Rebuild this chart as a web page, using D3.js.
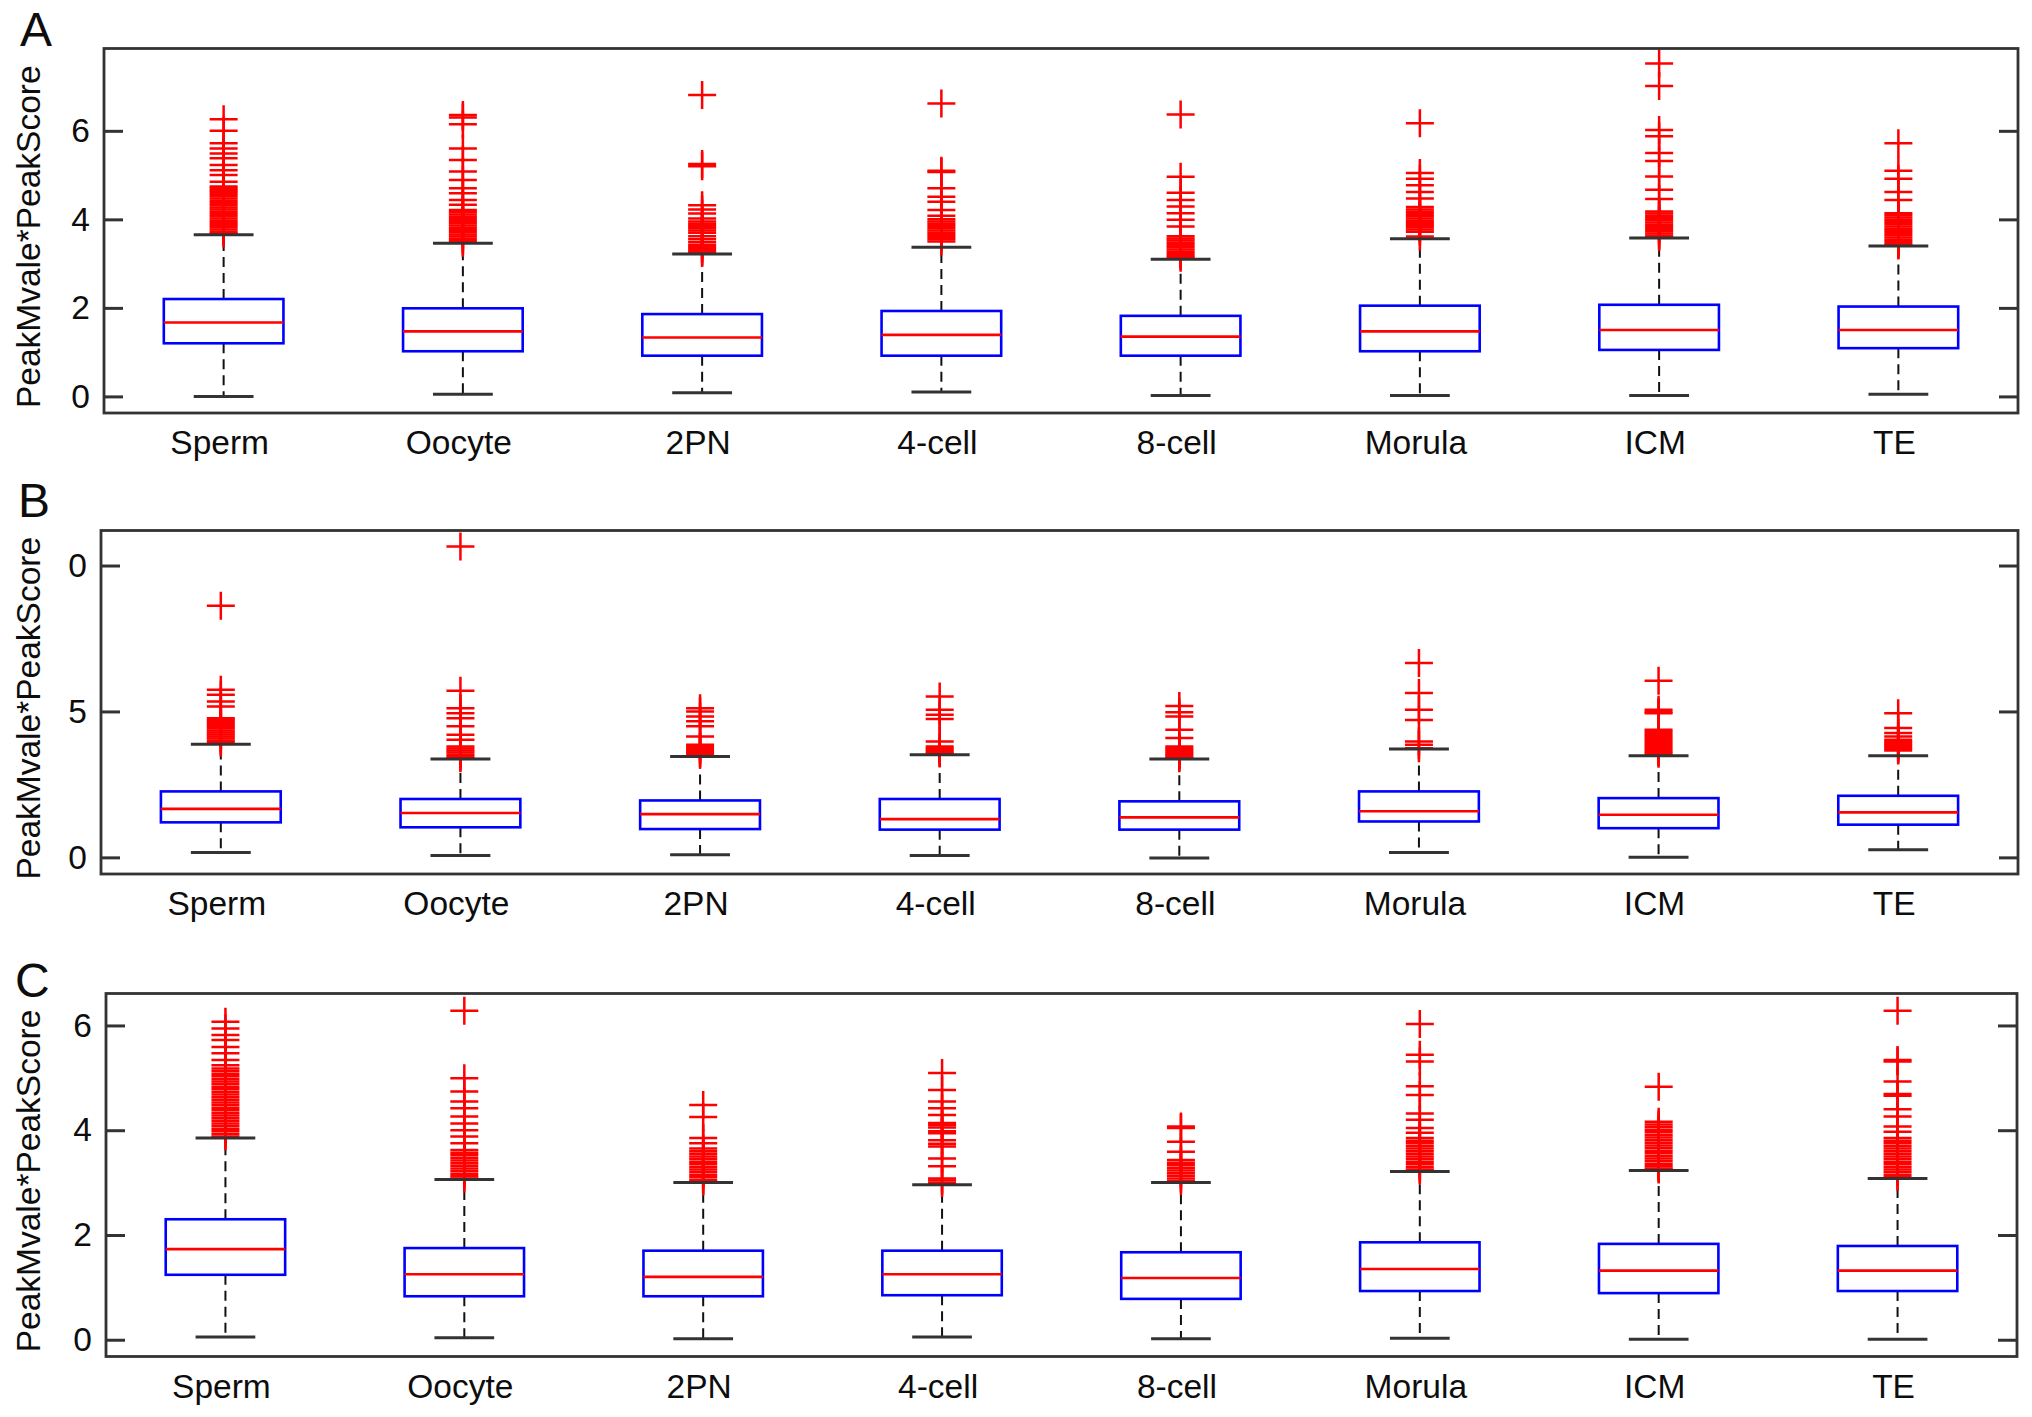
<!DOCTYPE html>
<html>
<head>
<meta charset="utf-8">
<script src="https://cdn.jsdelivr.net/npm/d3@7"></script>
<style>
  html, body { margin: 0; padding: 0; background: #fff; }
  svg { display: block; }
  text { font-family: "Liberation Sans", Arial, Helvetica, sans-serif; fill: #0d0d0d; }
</style>
</head>
<body>
<svg id="chart" width="2032" height="1417"></svg>
<script>
// ---------------- DATA ----------------
const categories = ["Sperm", "Oocyte", "2PN", "4-cell", "8-cell", "Morula", "ICM", "TE"];
const yAxisLabel = "PeakMvale*PeakScore";
const panelLetters = ["A", "B", "C"];

// Panel A
const aTicks = [0, 2, 4, 6];
const aTickLabels = ["0", "2", "4", "6"];
const aLow = [0.00, 0.05, 0.08, 0.10, 0.02, 0.02, 0.02, 0.05];
const aQ1 = [1.20, 1.02, 0.92, 0.92, 0.92, 1.02, 1.05, 1.09];
const aMedian = [1.67, 1.47, 1.33, 1.39, 1.35, 1.47, 1.50, 1.50];
const aQ3 = [2.20, 1.99, 1.86, 1.93, 1.82, 2.05, 2.07, 2.03];
const aHigh = [3.65, 3.46, 3.22, 3.37, 3.10, 3.56, 3.58, 3.40];
const aOutliers = [
  [6.26,6.0,5.72,5.6,5.49,5.38,5.23,5.11,5.0,4.85,4.74,4.7,4.66,4.62,4.57,4.52,4.47,4.42,4.37,4.32,4.27,4.22,4.17,4.12,4.07,4.02,3.97,3.92,3.87,3.82,3.77,3.72,3.68],
  [6.36,6.3,6.15,5.6,5.34,5.08,4.89,4.7,4.59,4.44,4.33,4.21,4.16,4.11,4.06,4.01,3.96,3.91,3.86,3.81,3.76,3.71,3.66,3.61,3.56,3.51,3.47],
  [6.81,5.25,5.2,4.32,4.22,4.13,4.02,3.95,3.9,3.85,3.8,3.75,3.7,3.62,3.55,3.48,3.42,3.37,3.33,3.28,3.24],
  [6.62,5.1,5.07,4.7,4.51,4.4,4.21,4.08,4.0,3.95,3.9,3.85,3.8,3.75,3.7,3.65,3.6,3.55,3.5],
  [6.37,4.96,4.6,4.44,4.29,4.14,3.99,3.84,3.62,3.57,3.52,3.47,3.42,3.37,3.32,3.27,3.22,3.17,3.13],
  [6.17,5.05,4.92,4.77,4.62,4.47,4.28,4.22,4.17,4.12,4.07,4.02,3.97,3.92,3.87,3.82,3.77,3.72,3.61],
  [7.52,7.01,6.02,5.88,5.5,5.32,4.97,4.67,4.46,4.18,4.13,4.08,4.03,3.98,3.93,3.88,3.83,3.78,3.73,3.68,3.63,3.6],
  [5.72,5.1,4.92,4.62,4.44,4.14,4.09,4.04,3.99,3.94,3.89,3.84,3.79,3.74,3.69,3.64,3.59,3.54,3.49,3.44,3.41]
];

// Panel B
const bTicks = [0, 5, 10];
const bTickLabels = ["0", "5", "0"];
const bLow = [0.17, 0.06, 0.09, 0.06, -0.02, 0.17, 0.00, 0.26];
const bQ1 = [1.20, 1.03, 0.97, 0.95, 0.95, 1.23, 1.00, 1.12];
const bMedian = [1.66, 1.52, 1.48, 1.31, 1.37, 1.58, 1.46, 1.54];
const bQ3 = [2.26, 2.00, 1.95, 2.00, 1.92, 2.26, 2.03, 2.11];
const bHigh = [3.88, 3.37, 3.46, 3.52, 3.37, 3.71, 3.48, 3.48];
const bOutliers = [
  [8.62,5.74,5.57,5.34,5.17,4.77,4.7,4.63,4.56,4.49,4.42,4.35,4.28,4.21,4.14,4.07,4.0,3.93],
  [10.65,5.71,5.11,4.94,4.77,4.49,4.2,4.03,3.8,3.73,3.66,3.59,3.52,3.45,3.4],
  [5.11,5.0,4.83,4.66,4.49,4.14,3.86,3.79,3.72,3.65,3.58,3.52],
  [5.51,5.06,4.89,4.74,3.97,3.8,3.74,3.68,3.62,3.56],
  [5.19,4.97,4.83,4.37,4.09,3.8,3.74,3.68,3.62,3.56,3.5,3.44,3.4],
  [6.66,5.63,5.06,4.71,3.97,3.86,3.74],
  [6.05,5.06,4.98,4.94,4.37,4.3,4.23,4.16,4.09,4.02,3.95,3.88,3.81,3.74,3.67,3.6,3.55],
  [4.94,4.43,4.26,4.14,4.03,3.96,3.9,3.84,3.78,3.72,3.66]
];

// Panel C
const cTicks = [0, 2, 4, 6];
const cTickLabels = ["0", "2", "4", "6"];
const cLow = [0.05, 0.04, 0.02, 0.05, 0.02, 0.03, 0.01, 0.01];
const cQ1 = [1.24, 0.83, 0.83, 0.85, 0.78, 0.93, 0.89, 0.93];
const cMedian = [1.73, 1.25, 1.20, 1.25, 1.18, 1.35, 1.32, 1.32];
const cQ3 = [2.30, 1.75, 1.70, 1.70, 1.67, 1.86, 1.83, 1.79];
const cHigh = [3.85, 3.06, 3.00, 2.96, 3.00, 3.21, 3.23, 3.08];
const cOutliers = [
  [6.07,5.94,5.82,5.72,5.59,5.47,5.34,5.24,5.18,5.13,5.08,5.03,4.98,4.93,4.88,4.83,4.78,4.73,4.68,4.63,4.58,4.53,4.48,4.43,4.38,4.33,4.28,4.23,4.18,4.13,4.08,4.03,3.98,3.93,3.88],
  [6.28,4.99,4.74,4.55,4.42,4.26,4.13,4.0,3.88,3.75,3.62,3.57,3.52,3.47,3.42,3.37,3.32,3.27,3.22,3.17,3.12,3.08],
  [4.48,4.25,3.85,3.75,3.65,3.6,3.55,3.5,3.45,3.4,3.35,3.3,3.25,3.2,3.15,3.1,3.05,3.02],
  [5.09,4.77,4.55,4.42,4.29,4.14,4.1,4.05,3.98,3.94,3.81,3.74,3.69,3.46,3.31,3.08,3.04,2.99],
  [4.07,4.04,3.78,3.59,3.43,3.38,3.33,3.28,3.23,3.18,3.13,3.08,3.03],
  [6.03,5.44,5.31,4.84,4.67,4.32,4.2,4.04,3.95,3.85,3.8,3.75,3.7,3.65,3.6,3.55,3.5,3.45,3.4,3.35,3.3,3.25,3.23],
  [4.83,4.16,4.11,4.06,4.01,3.96,3.91,3.86,3.81,3.76,3.71,3.66,3.61,3.56,3.51,3.46,3.41,3.36,3.31,3.27,3.25],
  [6.28,5.34,5.31,4.93,4.69,4.66,4.40,4.26,4.07,3.97,3.85,3.8,3.75,3.7,3.65,3.6,3.55,3.5,3.45,3.4,3.35,3.3,3.25,3.2,3.15,3.1]
];

// ---------------- LAYOUT ----------------
const panels = [
  { letter: panelLetters[0], ticks: aTicks, tickLabels: aTickLabels, low: aLow, q1: aQ1, med: aMedian, q3: aQ3, high: aHigh, out: aOutliers,
    domain: [-0.375, 7.86], left: 104, right: 2018, top: 48.5, bottom: 413, letterX: 20, letterY: 46 },
  { letter: panelLetters[1], ticks: bTicks, tickLabels: bTickLabels, low: bLow, q1: bQ1, med: bMedian, q3: bQ3, high: bHigh, out: bOutliers,
    domain: [-0.57, 11.2], left: 101, right: 2018, top: 530.5, bottom: 874, letterX: 18, letterY: 517 },
  { letter: panelLetters[2], ticks: cTicks, tickLabels: cTickLabels, low: cLow, q1: cQ1, med: cMedian, q3: cQ3, high: cHigh, out: cOutliers,
    domain: [-0.32, 6.61], left: 106, right: 2017, top: 993.5, bottom: 1356.5, letterX: 15, letterY: 997 }
];

const svg = d3.select("#chart");
const FONT = 33.5;
const TICK_LEN = 19;
const PLUS = 14;

panels.forEach(p => {
  const g = svg.append("g");
  const x = d3.scaleBand().domain(categories).range([p.left, p.right]).paddingInner(0).paddingOuter(0);
  const y = d3.scaleLinear().domain(p.domain).range([p.bottom, p.top]);
  const bw = x.bandwidth();
  const boxW = bw * 0.5;
  const capW = bw * 0.25;
  const cx = c => x(c) + bw / 2;

  const rows = categories.map((c, i) => ({ c, low: p.low[i], q1: p.q1[i], med: p.med[i], q3: p.q3[i], high: p.high[i], out: p.out[i] }));

  // Whiskers (dashed)
  g.selectAll(".wTop").data(rows).join("line")
    .attr("x1", d => cx(d.c)).attr("x2", d => cx(d.c))
    .attr("y1", d => y(d.q3)).attr("y2", d => y(d.high))
    .attr("stroke", "#111").attr("stroke-width", 2).attr("stroke-dasharray", "10,6");
  g.selectAll(".wBot").data(rows).join("line")
    .attr("x1", d => cx(d.c)).attr("x2", d => cx(d.c))
    .attr("y1", d => y(d.q1)).attr("y2", d => y(d.low))
    .attr("stroke", "#111").attr("stroke-width", 2).attr("stroke-dasharray", "10,6");

  // Boxes
  g.selectAll(".box").data(rows).join("rect")
    .attr("x", d => cx(d.c) - boxW / 2).attr("width", boxW)
    .attr("y", d => y(d.q3)).attr("height", d => y(d.q1) - y(d.q3))
    .attr("fill", "none").attr("stroke", "#0000ff").attr("stroke-width", 2.6);

  // Medians
  g.selectAll(".med").data(rows).join("line")
    .attr("x1", d => cx(d.c) - boxW / 2).attr("x2", d => cx(d.c) + boxW / 2)
    .attr("y1", d => y(d.med)).attr("y2", d => y(d.med))
    .attr("stroke", "#ff0000").attr("stroke-width", 2.6);

  // Outliers (+)
  const outs = rows.flatMap(d => d.out.map(v => ({ c: d.c, v })));
  g.selectAll(".out").data(outs).join("path")
    .attr("d", d => {
      const px = cx(d.c), py = y(d.v);
      return `M${px - PLUS},${py}H${px + PLUS}M${px},${py - PLUS}V${py + PLUS}`;
    })
    .attr("fill", "none").attr("stroke", "#ff0000").attr("stroke-width", 2.5);

  // Caps
  ["low", "high"].forEach(k => {
    g.selectAll(".cap" + k).data(rows).join("line")
      .attr("x1", d => cx(d.c) - capW / 2).attr("x2", d => cx(d.c) + capW / 2)
      .attr("y1", d => y(d[k])).attr("y2", d => y(d[k]))
      .attr("stroke", "#333").attr("stroke-width", 3);
  });

  // Frame
  g.append("rect")
    .attr("x", p.left).attr("y", p.top)
    .attr("width", p.right - p.left).attr("height", p.bottom - p.top)
    .attr("fill", "none").attr("stroke", "#333").attr("stroke-width", 2.8);

  // Y ticks (inward, both sides)
  const leftAxis = d3.axisLeft(y).tickValues(p.ticks).tickSize(-TICK_LEN).tickPadding(14)
    .tickFormat((d, i) => p.tickLabels[i]);
  const ax = g.append("g").attr("transform", `translate(${p.left},0)`).call(leftAxis);
  ax.select(".domain").remove();
  ax.selectAll(".tick line").attr("stroke", "#333").attr("stroke-width", 3);
  ax.selectAll(".tick text")
    .attr("x", -14)
    .attr("font-size", FONT).attr("fill", "#0d0d0d")
    .style("font-family", '"Liberation Sans", Arial, sans-serif');

  const rightAxis = d3.axisRight(y).tickValues(p.ticks).tickSize(-TICK_LEN).tickFormat("");
  const ax2 = g.append("g").attr("transform", `translate(${p.right},0)`).call(rightAxis);
  ax2.select(".domain").remove();
  ax2.selectAll(".tick line").attr("stroke", "#333").attr("stroke-width", 3);

  // Category labels
  g.selectAll(".cat").data(categories).join("text")
    .attr("x", c => cx(c) - 4)
    .attr("y", p.bottom + 41)
    .attr("text-anchor", "middle")
    .attr("font-size", FONT)
    .text(c => c);

  // Y axis label
  g.append("text")
    .attr("transform", `translate(40,${(p.top + p.bottom) / 2 + 6}) rotate(-90)`)
    .attr("text-anchor", "middle")
    .attr("font-size", FONT)
    .text(yAxisLabel);

  // Panel letter
  g.append("text")
    .attr("x", p.letterX).attr("y", p.letterY)
    .attr("font-size", 48)
    .text(p.letter);
});
</script>
</body>
</html>
